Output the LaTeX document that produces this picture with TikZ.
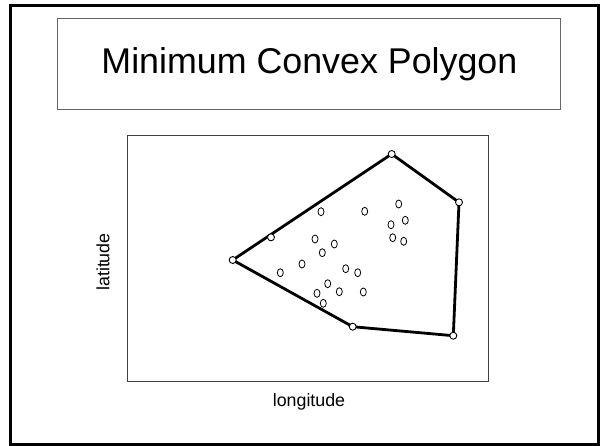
\documentclass[tikz,border=0pt]{standalone}
\usepackage{fontspec}
\setmainfont{Liberation Sans}
\usetikzlibrary{shapes.geometric}
\begin{document}
\begin{tikzpicture}[x=1pt,y=-1pt,
  vtx/.style={circle,draw=black,fill=white,line width=0.9pt,inner sep=0pt,minimum size=7pt},
  pt/.style={ellipse,draw=black,fill=white,line width=0.8pt,inner sep=0pt,minimum width=6pt,minimum height=8pt},
  hull/.style={line width=2.8pt,black},
  lbl/.style={font=\fontsize{17.8}{20}\selectfont,inner sep=0pt}]
\useasboundingbox (0,0) rectangle (607,445);
\fill[white] (0,0) rectangle (607,445);
% outer frame
\draw[line width=3pt] (10.5,5) rectangle (598.5,444);
% title box
\node[draw=black!60,line width=0.9pt,minimum width=503pt,minimum height=91pt,inner sep=0pt] (title) at (309.4,63.8) {};
\node[font=\fontsize{35.8}{40}\selectfont,inner sep=0pt] (titletext) at (309.4,64.5) {Minimum Convex Polygon};
% plot box
\node[draw=black!75,line width=0.9pt,minimum width=361pt,minimum height=246pt,inner sep=0pt] (plot) at (307.5,258) {};
\node[lbl] (xl) at (309,401.5) {longitude};
\node[lbl,rotate=90] (yl) at (103,262) {latitude};
% hull vertices
\coordinate (A) at (391.7,154);
\coordinate (B) at (459,202.3);
\coordinate (C) at (453.3,335.7);
\coordinate (D) at (352.7,326.7);
\coordinate (E) at (232.7,260);
\draw[hull,line join=round] (A) -- (B) -- (C) -- (D) -- (E) -- cycle;
\node[vtx] (vA) at (A) {};
\node[vtx] (vB) at (B) {};
\node[vtx] (vC) at (C) {};
\node[vtx] (vD) at (D) {};
\node[vtx] (vE) at (E) {};
\node[vtx] (vF) at (271,237.3) {};
% interior points
\node[pt] (p1) at (321,211.7) {};
\node[pt] (p2) at (364.7,211.3) {};
\node[pt] (p3) at (398.7,204) {};
\node[pt] (p4) at (405.3,220.3) {};
\node[pt] (p5) at (391,224.7) {};
\node[pt] (p6) at (392.7,237.7) {};
\node[pt] (p7) at (403.7,241.3) {};
\node[pt] (p8) at (315,239) {};
\node[pt] (p9) at (334.3,244) {};
\node[pt] (p10) at (322.3,252.7) {};
\node[pt] (p11) at (302,264) {};
\node[pt] (p12) at (280.3,272.7) {};
\node[pt] (p13) at (345.7,268.7) {};
\node[pt] (p14) at (357.7,272.7) {};
\node[pt] (p15) at (327.7,283.7) {};
\node[pt] (p16) at (339.3,291.7) {};
\node[pt] (p17) at (363.3,292) {};
\node[pt] (p18) at (317,293.3) {};
\node[pt] (p19) at (323.3,303.3) {};
\end{tikzpicture}
\end{document}
